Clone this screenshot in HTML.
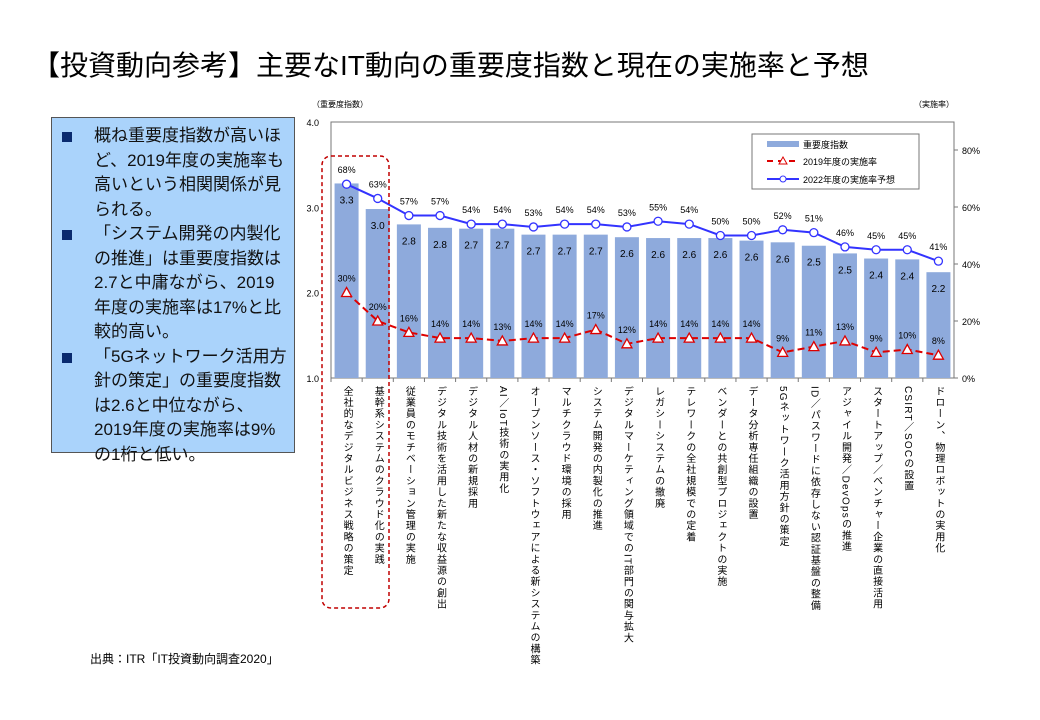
<!DOCTYPE html>
<html><head><meta charset="utf-8"><style>
body{margin:0;background:#fff;width:1040px;height:720px;overflow:hidden;font-family:"Liberation Sans","Noto Sans CJK JP",sans-serif;}
#title{position:absolute;left:32px;top:44px;font-size:28px;color:#000;white-space:nowrap;}
#box{position:absolute;left:51px;top:117px;width:242px;height:334px;background:#aad3fb;border:1.5px solid #555;}
#box p{margin:0;position:relative;padding-left:42px;font-size:17px;line-height:24.5px;color:#111;width:196px;}
#box p span.b{position:absolute;left:10px;top:8px;width:10px;height:10px;background:#0a2a6e;}
#src{position:absolute;left:90px;top:650px;font-size:12px;}
svg{position:absolute;left:0;top:0;}
</style></head><body>
<div id="title">【投資動向参考】主要なIT動向の重要度指数と現在の実施率と予想</div>
<div id="box">
<p style="margin-top:6px"><span class="b"></span>概ね重要度指数が高いほど、2019年度の実施率も高いという相関関係が見られる。</p>
<p><span class="b"></span>「システム開発の内製化の推進」は重要度指数は2.7と中庸ながら、2019年度の実施率は17%と比較的高い。</p>
<p><span class="b"></span>「5Gネットワーク活用方針の策定」の重要度指数は2.6と中位ながら、2019年度の実施率は9%の1桁と低い。</p>
</div>
<div id="src">出典：ITR「IT投資動向調査2020」</div>
<svg id="chart" width="1040" height="720"></svg>
<script>
const categories=["全社的なデジタルビジネス戦略の策定","基幹系システムのクラウド化の実践","従業員のモチベーション管理の実施","デジタル技術を活用した新たな収益源の創出","デジタル人材の新規採用","AI／IoT技術の実用化","オープンソース・ソフトウェアによる新システムの構築","マルチクラウド環境の採用","システム開発の内製化の推進","デジタルマーケティング領域でのIT部門の関与拡大","レガシーシステムの撤廃","テレワークの全社規模での定着","ベンダーとの共創型プロジェクトの実施","データ分析専任組織の設置","5Gネットワーク活用方針の策定","ID／パスワードに依存しない認証基盤の整備","アジャイル開発／DevOpsの推進","スタートアップ／ベンチャー企業の直接活用","CSIRT／SOCの設置","ドローン、物理ロボットの実用化"];
const importance=[3.28,2.98,2.80,2.76,2.75,2.75,2.68,2.68,2.68,2.65,2.64,2.64,2.64,2.61,2.59,2.55,2.46,2.40,2.39,2.24];
const importanceLabels=["3.3","3.0","2.8","2.8","2.7","2.7","2.7","2.7","2.7","2.6","2.6","2.6","2.6","2.6","2.6","2.5","2.5","2.4","2.4","2.2"];
const rate2019=[30,20,16,14,14,13,14,14,17,12,14,14,14,14,9,11,13,9,10,8];
const rate2022=[68,63,57,57,54,54,53,54,54,53,55,54,50,50,52,51,46,45,45,41];
const leftTicks=[1.0,2.0,3.0,4.0];
const rightTicks=[0,20,40,60,80];

const NS="http://www.w3.org/2000/svg";
const svg=document.getElementById('chart');
const L=331,R=954,T=122,B=378;
const n=categories.length, bw=(R-L)/n;
const xC=i=>L+bw*(i+0.5);
const yL=v=>B-(v-1)*(B-T)/3;
const yR=p=>B-p*2.85;
function mk(tag,at,txt){const e=document.createElementNS(NS,tag);for(const k in at)e.setAttribute(k,at[k]);if(txt!==undefined)e.textContent=txt;svg.appendChild(e);return e;}

// frame
let e=mk('rect',{x:L,y:T,width:R-L,height:B-T,fill:'none',stroke:'#777','stroke-width':1});


// left ticks
leftTicks.forEach(v=>{
 let t=mk('text',{x:L-12,y:yL(v)+4,'font-size':9,'text-anchor':'end',fill:'#000'},v.toFixed(1));
 
 
});
rightTicks.forEach(p=>{
 mk('line',{x1:R,x2:R+4,y1:yR(p),y2:yR(p),stroke:'#777'});
 let t=mk('text',{x:R+8,y:yR(p)+4,'font-size':9,fill:'#000'},p+'%');
 
 
});
e=mk('text',{x:312,y:107,'font-size':8,fill:'#000'},'（重要度指数）');


e=mk('text',{x:914,y:107,'font-size':8,fill:'#000'},'（実施率）');



// bars
importance.forEach((v,i)=>{
 let r=mk('rect',{x:xC(i)-12,y:yL(v),width:24,height:B-yL(v),fill:'#8eaadc'});
 
 
 let t=mk('text',{x:xC(i),y:yL(v)+20,'font-size':10,'text-anchor':'middle',fill:'#000'},importanceLabels[i]);
 
 
 mk('line',{x1:L+bw*i,x2:L+bw*i,y1:B,y2:B+4,stroke:'#777'});
});
// 2022 line
let p22=rate2022.map((v,i)=>xC(i)+','+yR(v)).join(' ');
e=mk('polyline',{points:p22,fill:'none',stroke:'#3333ff','stroke-width':2});


rate2022.forEach((v,i)=>{
 let c=mk('circle',{cx:xC(i),cy:yR(v),r:4,fill:'#fff',stroke:'#3333ff','stroke-width':1.3});
 
 
 let t=mk('text',{x:xC(i),y:yR(v)-11,'font-size':9,'text-anchor':'middle',fill:'#000'},v+'%');
 
 
});
// 2019 line
let p19=rate2019.map((v,i)=>xC(i)+','+yR(v)).join(' ');
e=mk('polyline',{points:p19,fill:'none',stroke:'#dd0000','stroke-width':2,'stroke-dasharray':'7,4'});


rate2019.forEach((v,i)=>{
 const x=xC(i),y=yR(v);
 let m=mk('polygon',{points:`${x},${y-5} ${x-5},${y+4} ${x+5},${y+4}`,fill:'#fff',stroke:'#dd0000','stroke-width':1.3});
 
 
 let t=mk('text',{x:x,y:y-11,'font-size':9,'text-anchor':'middle',fill:'#000'},v+'%');
 
 
});
// category labels
categories.forEach((c,i)=>{
 let t=mk('text',{x:xC(i),y:386,'font-size':10,fill:'#000','writing-mode':'vertical-rl','letter-spacing':'1.2'},c);
 
 
});
// highlight
e=mk('rect',{x:322,y:156,width:67,height:452,rx:9,fill:'none',stroke:'#c00000','stroke-width':1.5,'stroke-dasharray':'4,3'});


// legend
e=mk('rect',{x:752,y:134,width:167,height:55,fill:'#fff',stroke:'#777'});


mk('rect',{x:767,y:141,width:32,height:6,fill:'#8eaadc'});
e=mk('text',{x:803,y:148,'font-size':9},'重要度指数');


mk('line',{x1:767,x2:799,y1:161,y2:161,stroke:'#dd0000','stroke-width':2,'stroke-dasharray':'6,5'});
mk('polygon',{points:'783,157 779,164 787,164',fill:'#fff',stroke:'#dd0000'});
e=mk('text',{x:803,y:165,'font-size':9},'2019年度の実施率');


mk('line',{x1:767,x2:799,y1:179,y2:179,stroke:'#3333ff','stroke-width':2});
mk('circle',{cx:783,cy:179,r:3,fill:'#fff',stroke:'#3333ff'});
e=mk('text',{x:803,y:183,'font-size':9},'2022年度の実施率予想');


</script>
</body></html>
